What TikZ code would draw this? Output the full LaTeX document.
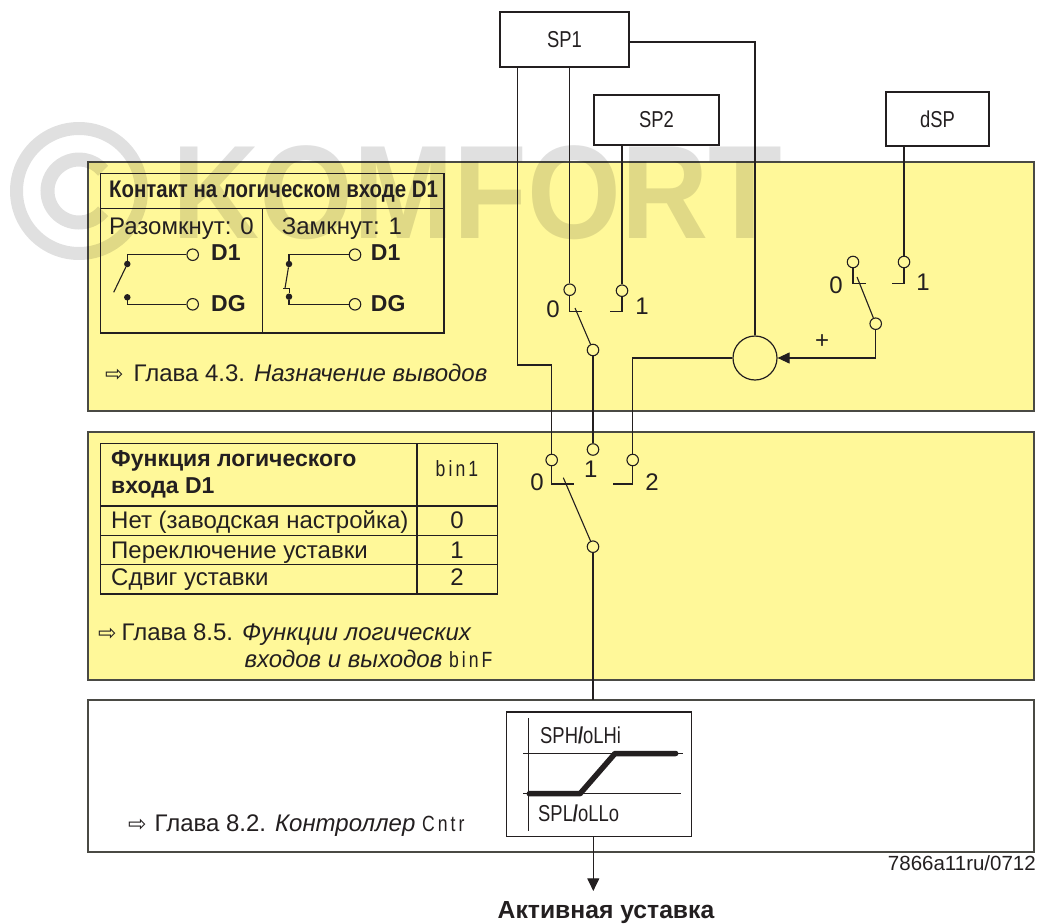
\documentclass[tikz,border=0pt]{standalone}
\usepackage{fontspec}
\setmainfont{Liberation Sans}
\newfontfamily\dispfont[FakeStretch=0.8]{Liberation Sans}
\newfontfamily\codefont[FakeStretch=0.8,LetterSpace=14]{Liberation Sans}
\newfontfamily\headfont[FakeStretch=0.85]{Liberation Sans}
\newfontfamily\symfont{DejaVu Sans}
\usetikzlibrary{arrows.meta,calc}
\definecolor{ink}     {HTML}{231F20}
\definecolor{panel}   {HTML}{FFF899}
\definecolor{edge}    {HTML}{4A4A44}
\newcommand{\chap}{{\symfont\fontsize{22}{24}\selectfont ⇨}}
\newcommand{\code}[1]{{\codefont\fontsize{22}{26}\selectfont #1}}
\tikzset{
  % --- nodes
  pane/.style   = {rectangle, draw=edge, line width=1.5pt, anchor=north west, inner sep=0pt, outer sep=0pt},
  ypane/.style  = {pane, fill=panel},
  sbox/.style   = {rectangle, draw=ink, line width=1.2pt, fill=white, inner sep=0pt, outer sep=0pt,
                   font=\dispfont\fontsize{23}{27}\selectfont, text=ink},
  cell/.style   = {rectangle, draw=ink, line width=1.2pt, anchor=north west, inner sep=0pt, outer sep=0pt},
  term/.style   = {circle, draw=ink, line width=1.1pt, fill=panel, inner sep=0pt, minimum size=11.5pt},
  sum/.style    = {circle, draw=ink, line width=1.2pt, fill=panel, inner sep=0pt, minimum size=44pt},
  dot/.style    = {circle, fill=ink, inner sep=0pt, minimum size=6.5pt},
  txt/.style    = {font=\fontsize{24}{28}\selectfont, text=ink, inner sep=0pt, anchor=base west},
  bold/.style   = {txt, font=\fontsize{23}{27}\selectfont\bfseries},
  num/.style    = {txt, anchor=base},
  % --- edges
  wire/.style   = {draw=ink, line width=1.1pt},
  grid/.style   = {draw=ink, line width=1.2pt},
  wmark/.style  = {black, opacity=0.12},
}
\begin{document}
\begin{tikzpicture}[x=1pt,y=-1pt]
  \useasboundingbox (0,0) rectangle (1046,923);
  % panels
  \node[ypane, minimum width=946pt, minimum height=249pt] (upper) at (88,162) {};
  \node[ypane, minimum width=946pt, minimum height=248pt] (middle) at (88,432) {};
  \node[pane, fill=white, minimum width=946pt, minimum height=152pt] (lower) at (88,700) {};
  % watermark
  \draw[wmark, line width=13pt, fill=none] (79,191) circle (62.5);
  \draw[wmark, line width=14pt, fill=none] (79,191) ++(40:31.5) arc[start angle=40,end angle=320,radius=31.5];
  \node[wmark, text opacity=0.12, inner sep=0pt, anchor=base west, font=\fontsize{133}{133}\selectfont\bfseries,
        xscale=0.907] (brand) at (172,238) {KOMFORT};

  % top sources
  \node[sbox, minimum width=129pt, minimum height=55pt] (sp1) at (564.5,39.5) {SP1};
  \node[sbox, minimum width=125pt, minimum height=50pt] (sp2) at (656.5,120) {SP2};
  \node[sbox, minimum width=103pt, minimum height=54pt] (dsp) at (937.5,119) {dSP};

  % first table
  \node[cell, minimum width=343.3pt, minimum height=159.7pt] (contact) at (100.7,173.3) {};
  \draw[grid] (contact.west |- 0,208.7) -- (contact.east |- 0,208.7);
  \draw[grid] (262.7,208.7) -- (262.7,333);
  \node[txt, font=\headfont\bfseries\fontsize{24}{28}\selectfont] (chead) at (109,197.3) {Контакт на логическом входе D1};
  \node[txt] (open) at (109,234.5) {Разомкнут: 0};
  \node[txt] (closed) at (281.7,234.5) {Замкнут: 1};
  % open contact
  \node[term] (oa) at (192.7,254.7) {};
  \node[term] (ob) at (192.7,304.3) {};
  \node[dot] (oad) at (127.3,264) {};
  \node[dot] (obd) at (127.3,297.3) {};
  \coordinate (ofree) at (113.7,292.3);
  \draw[wire] (oa) -| (oad);
  \draw[wire] (ob) -| (obd.north);
  \draw[wire] (oad) -- (ofree);
  \node[bold] (oal) at (211,260) {D1};
  \node[bold] (obl) at (211,311.7) {DG};
  % closed contact
  \node[term] (ca) at (355,254.7) {};
  \node[term] (cb) at (355,304.3) {};
  \node[dot] (cad) at (289,264) {};
  \node[dot] (cbd) at (289,296.7) {};
  \coordinate (cfree) at (285,288.3);
  \coordinate (chook) at (283.3,288.3);
  \draw[wire] (ca) -| (cad);
  \draw[wire] (cb) -| (cbd);
  \draw[wire] (cad) -- (cfree);
  \draw[wire, line width=1pt] (chook) -| (cbd);
  \node[bold] (cal) at (370.7,260) {D1};
  \node[bold] (cbl) at (370.7,311.7) {DG};
  \node[txt] (ref43) at (105,381.5) {\chap\hspace{10pt}Глава 4.3. \textit{Назначение выводов}};

  % second table
  \node[cell, minimum width=397pt, minimum height=150.7pt] (func) at (100.7,443.3) {};
  \draw[grid] (417,443.3) -- (417,594);
  \foreach \rowy in {506,535.3,564.7}
    \draw[grid] (func.west |- 0,\rowy) -- (func.east |- 0,\rowy);
  \node[bold] (fh1) at (111,466) {Функция логического};
  \node[bold] (fh2) at (111,493.3) {входа D1};
  \node[num] (fbin) at (457,476) {\code{bin1}};
  \node[txt] (r0) at (111,528) {Нет (заводская настройка)};
  \node[txt] (r1) at (111,558) {Переключение уставки};
  \node[txt] (r2) at (111,585) {Сдвиг уставки};
  \node[num] (v0) at (457,528) {0};
  \node[num] (v1) at (457,558) {1};
  \node[num] (v2) at (457,585) {2};
  \node[txt] (ref85a) at (98,640) {\chap\hspace{5pt}Глава 8.5. \textit{Функции логических}};
  \node[txt] (ref85b) at (244.3,667.5) {\textit{входов и выходов} \code{binF}};

  % switch A
  \node[term] (at0) at (569.7,289.7) {};
  \node[term] (at1) at (622,290.7) {};
  \node[term] (atc) at (593,350) {};
  \coordinate (at0e) at (582,311.5);
  \coordinate (at1e) at (610,311.5);
  \coordinate (atb) at (575,308);
  \node[num] (al0) at (553,317.5) {0};
  \node[num] (al1) at (642,314.5) {1};
  \draw[wire] (at0) |- (at0e);
  \draw[wire] (at1) |- (at1e);
  \draw[wire] (atb) -- (atc);

  % switch B
  \node[term] (bt0) at (853,262) {};
  \node[term] (bt1) at (904,262) {};
  \node[term] (btc) at (875.7,323.7) {};
  \coordinate (bt0e) at (865.7,283.7);
  \coordinate (bt1e) at (892,283.7);
  \coordinate (btb) at (857,277);
  \node[num] (bl0) at (836,293.5) {0};
  \node[num] (bl1) at (923,290.5) {1};
  \draw[wire] (bt0) |- (bt0e);
  \draw[wire] (bt1) |- (bt1e);
  \draw[wire] (btb) -- (btc);

  % switch C
  \node[term] (ct0) at (551.7,460) {};
  \node[term] (ct1) at (593,449.5) {};
  \node[term] (ct2) at (632.7,460) {};
  \node[term] (ctc) at (593,546.7) {};
  \coordinate (ct0e) at (574,484);
  \coordinate (ct2e) at (612.7,484);
  \coordinate (ctb) at (563.3,477.7);
  \node[num] (cl0) at (537,490.5) {0};
  \node[num] (cl1) at (590.7,477.5) {1};
  \node[num] (cl2) at (652,490.5) {2};
  \draw[wire] (ct0) |- (ct0e);
  \draw[wire] (ct2) |- (ct2e);
  \draw[wire] (ctb) -- (ctc);

  % summing point and wiring
  \node[sum] (add) at (755,358) {};
  \node[num] (plus) at (822,348) {+};
  \coordinate (sp1a) at (517.5,67);
  \coordinate (bend) at (551.7,365);
  \draw[wire] (sp1a) |- (bend) -- (ct0);
  \draw[wire] (at0 |- sp1.south) -- (at0);
  \draw[wire] (at1 |- sp2.south) -- (at1);
  \draw[wire] (bt1 |- dsp.south) -- (bt1);
  \draw[wire] (sp1.east |- 0,42) -| (add);
  \draw[wire] (atc) -- (ct1);
  \draw[wire] (add) -| (ct2);
  \draw[wire, -{Triangle[length=12pt,width=11pt]}] (btc) |- (add);

  % limiter
  \node[txt] (ref82) at (128,831.5) {\chap\hspace{8pt}Глава 8.2. \textit{Контроллер} \code{Cntr}};
  \node[rectangle, draw=ink, line width=1.2pt, fill=white, inner sep=0pt, outer sep=0pt, anchor=north west,
        minimum width=185pt, minimum height=124.7pt] (limit) at (506.7,712) {};
  \draw[wire] (ctc) -- (ctc |- lower.north);
  \coordinate (xaxa) at (528.3,718);
  \coordinate (xaxb) at (528.3,831);
  \coordinate (ha) at (523,753.3);
  \coordinate (hb) at (683,753.3);
  \coordinate (la) at (523,793.7);
  \coordinate (lb) at (680.7,793.7);
  \draw[wire] (xaxa) -- (xaxb);
  \draw[wire] (ha) -- (hb);
  \draw[wire] (la) -- (lb);
  \draw[draw=ink, line width=5.5pt, line cap=round, line join=round]
    (529.3,793.7) -- (580,793.7) -- (615,753.5) -- (675.7,753.5);
  \node[txt, font=\dispfont\fontsize{23}{27}\selectfont] (high) at (540,743.3) {SPH{\bfseries/}oLHi};
  \node[txt, font=\dispfont\fontsize{23}{27}\selectfont] (low) at (538,821.7) {SPL{\bfseries/}oLLo};

  % output
  \node[txt, anchor=base, font=\fontsize{24.7}{29}\selectfont\bfseries] (active) at (606,918) {Активная уставка};
  \draw[wire, -{Triangle[length=12.7pt,width=12pt]}] (limit.south -| 593.3,0) -- (593.3,891);
  \node[txt, anchor=base east, font=\fontsize{20.5}{24}\selectfont] (code) at (1036,870) {7866a11ru/0712};
\end{tikzpicture}
\end{document}
